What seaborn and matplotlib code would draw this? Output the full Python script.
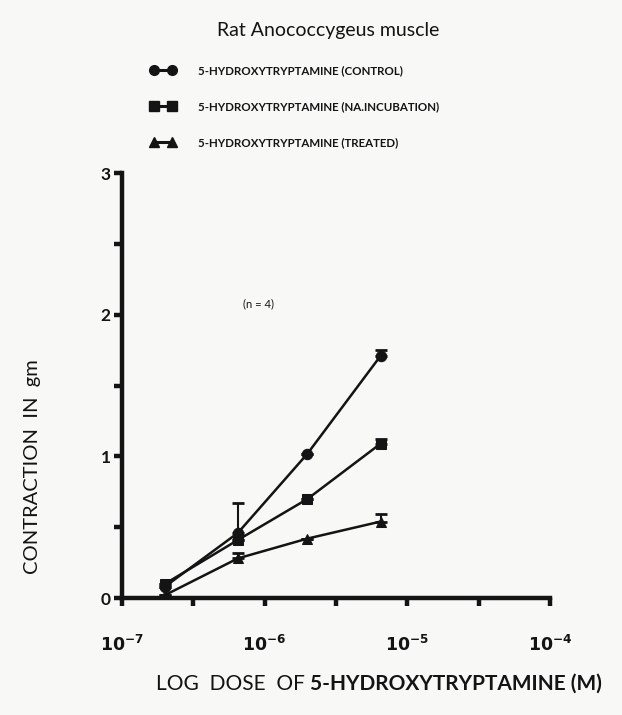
import numpy as np
import pandas as pd
import seaborn as sns
import matplotlib.pyplot as plt

# doses (M) and mean contraction (gm)
dose = [2e-7, 6.5e-7, 2e-6, 6.5e-6]
control = [0.08, 0.46, 1.02, 1.71]
na_incubation = [0.10, 0.41, 0.70, 1.09]
treated = [0.02, 0.28, 0.42, 0.54]
# upper error bars (SEM), 0 where none is drawn
control_err = [0.0, 0.21, 0.0, 0.04]
na_err = [0.0, 0.0, 0.0, 0.03]
treated_err = [0.0, 0.04, 0.0, 0.05]

labels = ["5-HYDROXYTRYPTAMINE (CONTROL)",
          "5-HYDROXYTRYPTAMINE (NA.INCUBATION)",
          "5-HYDROXYTRYPTAMINE (TREATED)"]

df = pd.DataFrame({
    "dose": dose * 3,
    "contraction": control + na_incubation + treated,
    "group": [labels[0]] * 4 + [labels[1]] * 4 + [labels[2]] * 4,
})

sns.set_theme(style="ticks")
plt.rcParams['font.family'] = ['Lato', 'DejaVu Sans']
ink = "#141414"

fig = plt.figure(figsize=(6.22, 7.15), dpi=100)
fig.patch.set_facecolor("#f8f8f6")
ax = fig.add_axes([0.196, 0.1636, 0.688, 0.594])
ax.set_facecolor("#f8f8f6")

sns.lineplot(data=df, x="dose", y="contraction", hue="group", style="group",
             markers={labels[0]: "o", labels[1]: "s", labels[2]: "^"},
             dashes=False, palette=[ink, ink, ink], markersize=7.5,
             linewidth=1.8, markeredgecolor=ink, ax=ax, legend=False)

for vals, err in [(control, control_err), (na_incubation, na_err), (treated, treated_err)]:
    ax.errorbar(dose, vals, yerr=[np.zeros(4), err], fmt="none", ecolor=ink,
                elinewidth=1.5, capsize=4.5, capthick=2)

ax.set_xscale("log")
ax.set_xlim(1e-7, 1e-4)
ax.set_ylim(0, 3)
ax.set_xticks([1e-7, 1e-6, 1e-5, 1e-4])
ax.set_xticklabels([r"$\mathbf{10^{-7}}$", r"$\mathbf{10^{-6}}$", r"$\mathbf{10^{-5}}$", r"$\mathbf{10^{-4}}$"])
ax.set_xticks([10 ** (-6.5), 10 ** (-5.5), 10 ** (-4.5)], minor=True)
ax.xaxis.set_minor_formatter(plt.NullFormatter())
ax.set_yticks([0, 1, 2, 3])
ax.set_yticklabels(["0", "1", "2", "3"])
ax.set_yticks([0.5, 1.5, 2.5], minor=True)

for s in ["top", "right"]:
    ax.spines[s].set_visible(False)
for s in ["left", "bottom"]:
    ax.spines[s].set_linewidth(3.2)
    ax.spines[s].set_color(ink)
ax.tick_params(which="both", length=6, width=3.2, color=ink, labelcolor=ink,
               labelsize=12.5)
ax.tick_params(axis="x", which="major", pad=20)
ax.tick_params(axis="y", which="major", pad=2)
for t in ax.get_yticklabels():
    t.set_fontweight("bold")

ax.set_xlabel("")
ax.set_ylabel("CONTRACTION  IN  gm", fontsize=14.5, color=ink)
ax.yaxis.set_label_coords(-0.19, 0.31)

# x label: plain start, bold compound name
t1 = fig.text(0.25, 0.035, "LOG  DOSE  OF ", fontsize=15, color=ink,
              ha="left", va="baseline")
fig.canvas.draw()
bb = t1.get_window_extent()
fig.text(bb.x1 / fig.bbox.width, 0.035, "5-HYDROXYTRYPTAMINE (M)", fontsize=15,
         color=ink, fontweight="bold", ha="left", va="baseline")

ax.text(9e-7, 2.08, "(n = 4)", fontsize=8, ha="center", va="center", color=ink)

fig.text(0.528, 0.958, "Rat Anococcygeus muscle", fontsize=14, ha="center",
         va="center", color=ink)

handles = [
    plt.Line2D([], [], color=ink, marker="o", markersize=7, linewidth=2.2),
    plt.Line2D([], [], color=ink, marker="s", markersize=7, linewidth=2.2),
    plt.Line2D([], [], color=ink, marker="^", markersize=7, linewidth=2.2),
]
fig.legend(handles, labels, loc="upper left", bbox_to_anchor=(0.225, 0.923),
           frameon=False, numpoints=2, handlelength=2.2, handletextpad=1.9,
           labelspacing=2.15, prop={"size": 8.3, "weight": "bold"},
           labelcolor=ink)

fig.savefig("out.png", dpi=100, facecolor=fig.get_facecolor())
